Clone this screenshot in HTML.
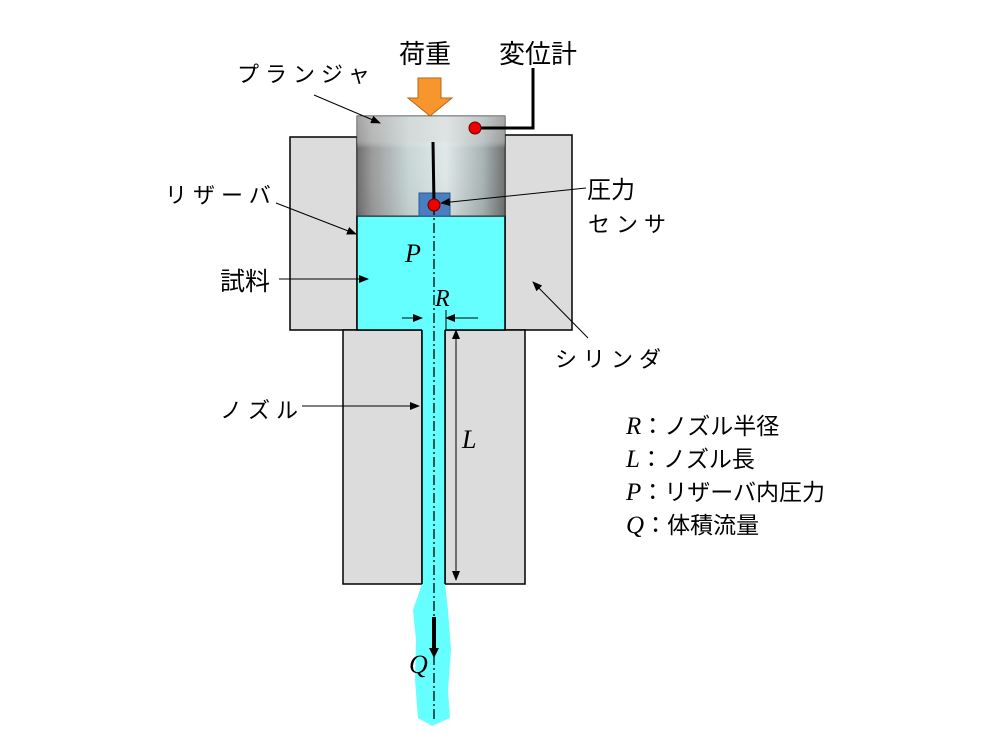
<!DOCTYPE html>
<html><head><meta charset="utf-8"><style>
body{margin:0;background:#fff;width:1000px;height:750px;overflow:hidden}
text{font-family:"Liberation Sans","Noto Sans CJK JP",sans-serif;fill:#000}
.it{font-family:"Liberation Serif",serif;font-style:italic}
</style></head><body>
<svg width="1000" height="750" viewBox="0 0 1000 750" xmlns="http://www.w3.org/2000/svg">
<defs>
<marker id="a" markerWidth="10" markerHeight="8" refX="9" refY="4" orient="auto" markerUnits="userSpaceOnUse"><path d="M0,0L10,4L0,8z" fill="#000"/></marker>
<linearGradient id="g" x1="0" x2="1" y1="0" y2="0">
<stop offset="0" stop-color="#6e6e6e"/><stop offset="0.1" stop-color="#9a9a9a"/><stop offset="0.35" stop-color="#c8d6d6"/><stop offset="0.6" stop-color="#e0e8e8"/><stop offset="0.85" stop-color="#a8b4b4"/><stop offset="1" stop-color="#707070"/></linearGradient>
<linearGradient id="g2" x1="0" x2="0" y1="0" y2="1">
<stop offset="0" stop-color="#ddd" stop-opacity="0.5"/><stop offset="0.25" stop-color="#ddd" stop-opacity="0.4"/><stop offset="0.32" stop-color="#fff" stop-opacity="0"/><stop offset="1" stop-color="#000" stop-opacity="0.05"/></linearGradient>
</defs>
<rect x="290" y="137" width="67" height="193" fill="#dcdcdc" stroke="#000" stroke-width="1.5"/>
<rect x="505" y="135" width="67" height="195" fill="#dcdcdc" stroke="#000" stroke-width="1.5"/>
<rect x="343" y="330" width="79" height="254" fill="#dcdcdc" stroke="#000" stroke-width="1.5"/>
<rect x="445" y="330" width="80" height="254" fill="#dcdcdc" stroke="#000" stroke-width="1.5"/>
<rect x="357" y="216" width="148" height="114" fill="#66ffff" stroke="#000" stroke-width="1.5"/>
<rect x="422" y="329" width="23" height="256" fill="#66ffff"/>
<line x1="422" y1="330" x2="422" y2="584" stroke="#000" stroke-width="1.5"/>
<line x1="445" y1="330" x2="445" y2="584" stroke="#000" stroke-width="1.5"/>
<path d="M422,584 L445,584 L448,610 L451,650 L448,690 L450,718 L432,726 L418,718 L415,680 L416,640 L413,610 Z" fill="#66ffff"/>
<rect x="357" y="116" width="148" height="100" fill="url(#g)" stroke="#333" stroke-width="1"/>
<rect x="357" y="116" width="148" height="100" fill="url(#g2)"/>
<rect x="419" y="193" width="31" height="23" fill="#4a7fbf" stroke="#2a5a99"/>
<line x1="434" y1="205" x2="434" y2="722" stroke="#000" stroke-width="1.3" stroke-dasharray="10,3,2,3"/>
<path d="M418,78 H441 V98 H452 L430,116 L408,98 H418 Z" fill="#f7962d" stroke="#b8661a" stroke-width="1"/>
<line x1="433" y1="142" x2="434" y2="205" stroke="#000" stroke-width="3"/>
<circle cx="434" cy="205" r="6" fill="#e00" stroke="#600"/>
<polyline points="475,128 533,128 533,68" fill="none" stroke="#000" stroke-width="3"/>
<circle cx="475" cy="128" r="6" fill="#e00" stroke="#600"/>
<line x1="402" y1="318" x2="422" y2="318" stroke="#000" marker-end="url(#a)"/>
<line x1="478" y1="318" x2="446" y2="318" stroke="#000" marker-end="url(#a)"/>
<line x1="446" y1="310" x2="446" y2="330" stroke="#000"/>
<line x1="456" y1="340" x2="456" y2="330" stroke="#000" marker-end="url(#a)"/>
<line x1="456" y1="340" x2="456" y2="580" stroke="#000" marker-end="url(#a)"/>
<line x1="434" y1="617" x2="434" y2="652" stroke="#000" stroke-width="4"/>
<path d="M429,648L439,648L434,658z" fill="#000"/>
<line x1="314" y1="95" x2="380" y2="123" stroke="#000" marker-end="url(#a)"/>
<line x1="276" y1="203" x2="356" y2="234" stroke="#000" marker-end="url(#a)"/>
<line x1="279" y1="279" x2="368" y2="279" stroke="#000" marker-end="url(#a)"/>
<line x1="302" y1="406" x2="419" y2="406" stroke="#000" marker-end="url(#a)"/>
<line x1="586" y1="188" x2="441" y2="203" stroke="#000" marker-end="url(#a)"/>
<line x1="588" y1="338" x2="533" y2="282" stroke="#000" marker-end="url(#a)"/>
<text x="399" y="63" font-size="26">荷重</text>
<text x="499" y="63" font-size="26">変位計</text>
<text x="237" y="82" font-size="22" letter-spacing="6">プランジャ</text>
<text x="165" y="203" font-size="22" letter-spacing="6">リザーバ</text>
<text x="220" y="290" font-size="25">試料</text>
<text x="220" y="418" font-size="22" letter-spacing="6">ノズル</text>
<text x="555" y="367" font-size="22" letter-spacing="6">シリンダ</text>
<text x="587" y="198" font-size="24">圧力</text>
<text x="588" y="232" font-size="22" letter-spacing="6">センサ</text>
<text class="it" x="405" y="262" font-size="26">P</text>
<text class="it" x="435" y="306" font-size="24">R</text>
<text class="it" x="462" y="448" font-size="26">L</text>
<text class="it" x="409" y="673" font-size="26">Q</text>
<g font-size="23">
<text x="626" y="434"><tspan class="it" font-size="25">R</tspan>：ノズル半径</text>
<text x="626" y="467"><tspan class="it" font-size="25">L</tspan>：ノズル長</text>
<text x="626" y="500"><tspan class="it" font-size="25">P</tspan>：リザーバ内圧力</text>
<text x="626" y="533"><tspan class="it" font-size="25">Q</tspan>：体積流量</text>
</g>
</svg>
</body></html>
